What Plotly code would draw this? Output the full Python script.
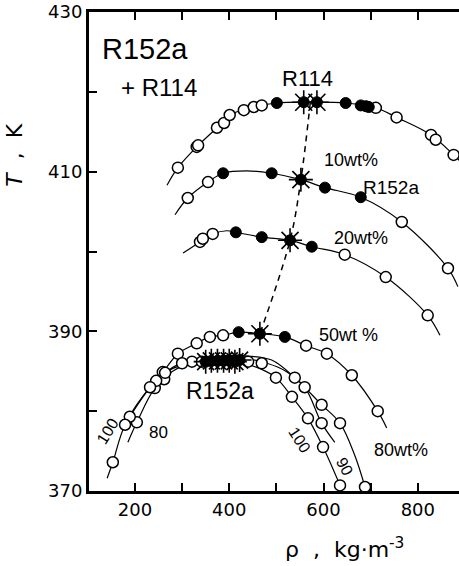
import plotly.graph_objects as go

# ---------------- data (density kg/m3, temperature K) ----------------
# R114 (pure)
r114_line_rho = [268, 291, 331, 374, 401, 452, 501, 571, 647, 711, 755, 828, 876, 893]
r114_line_T   = [408.3, 410.5, 413.1, 415.5, 417.1, 418.1, 418.6, 418.7, 418.6, 418.0, 416.8, 414.6, 412.1, 411.1]
r114_open_rho = [291, 331, 334, 374, 389, 401, 431, 452, 469, 711, 755, 828, 838, 876]
r114_open_T   = [410.5, 413.1, 413.3, 415.5, 416.1, 417.1, 417.7, 418.1, 418.3, 418.0, 416.8, 414.6, 414.0, 412.1]
r114_fill_rho = [501, 647, 679, 690, 696]
r114_fill_T   = [418.6, 418.6, 418.3, 418.2, 418.1]
r114_crit_rho = [558, 586]
r114_crit_T   = [418.7, 418.7]

# 10 wt% R152a
w10_line_rho = [285, 312, 355, 387, 437, 490, 552, 603, 679, 766, 864, 885]
w10_line_T   = [404.6, 406.7, 408.7, 409.8, 410.1, 409.8, 409.0, 408.0, 406.8, 403.7, 397.9, 395.6]
w10_open_rho = [312, 355, 766, 864]
w10_open_T   = [406.7, 408.7, 403.7, 397.9]
w10_fill_rho = [387, 490, 603, 679]
w10_fill_T   = [409.8, 409.8, 408.0, 406.8]
w10_crit_rho = [552]
w10_crit_T   = [409.0]

# 20 wt% R152a
w20_line_rho = [302, 338, 365, 395, 414, 469, 529, 575, 645, 732, 821, 847]
w20_line_T   = [399.8, 401.2, 402.2, 402.6, 402.4, 401.8, 401.4, 400.6, 399.6, 396.8, 392.0, 389.5]
w20_open_rho = [338, 344, 365, 645, 732, 821]
w20_open_T   = [401.2, 401.6, 402.2, 399.6, 396.8, 392.0]
w20_fill_rho = [414, 469, 575]
w20_fill_T   = [402.4, 401.8, 400.6]
w20_crit_rho = [529]
w20_crit_T   = [401.4]

# 50 wt% R152a
w50_line_rho = [232, 259, 291, 331, 359, 387, 420, 465, 518, 563, 607, 660, 715, 734]
w50_line_T   = [383.5, 384.9, 387.2, 388.5, 389.3, 389.5, 389.9, 389.7, 389.3, 388.2, 387.2, 384.5, 380.0, 377.9]
w50_open_rho = [259, 291, 331, 359, 387, 563, 607, 660, 715]
w50_open_T   = [384.9, 387.2, 388.5, 389.3, 389.5, 388.2, 387.2, 384.5, 380.0]
w50_fill_rho = [420, 518]
w50_fill_T   = [389.9, 389.3]
w50_crit_rho = [465]
w50_crit_T   = [389.7]

# 80 wt% R152a
w80_line_rho = [185, 204, 242, 280, 330, 380, 440, 490, 539, 596, 635, 666, 688]
w80_line_T   = [376.1, 378.6, 382.9, 385.0, 386.3, 386.9, 386.9, 386.4, 384.2, 380.8, 378.5, 374.5, 370.5]
w80_open_rho = [204, 242, 262, 321, 539, 596, 635, 688]
w80_open_T   = [378.6, 382.9, 384.0, 386.2, 384.2, 380.8, 378.5, 370.5]

# 90 wt% R152a
w90_line_rho = [189, 240, 290, 340, 430, 480, 520, 560, 596, 624]
w90_line_T   = [379.3, 383.5, 385.8, 386.4, 386.6, 386.0, 385.0, 383.0, 378.5, 376.1]
w90_open_rho = [189, 245, 300, 560, 596]
w90_open_T   = [379.3, 383.8, 386.0, 383.0, 378.5]

# R152a (pure, 100)
w100_line_rho = [141, 153, 179, 232, 264, 300, 342, 384, 430, 470, 499, 533, 567, 599, 635]
w100_line_T   = [371.6, 373.6, 378.3, 383.0, 384.8, 385.8, 386.2, 386.3, 386.0, 385.2, 384.2, 381.8, 379.1, 375.5, 370.7]
w100_open_rho = [153, 179, 232, 264, 342, 440, 469, 499, 533, 567, 599, 635]
w100_open_T   = [373.6, 378.3, 383.0, 384.8, 386.2, 386.2, 386.0, 384.2, 381.8, 379.1, 375.5, 370.7]
w100_crit_rho = [350, 362, 375, 388, 400, 412, 422]
w100_crit_T   = [386.2, 386.3, 386.3, 386.3, 386.3, 386.2, 386.4]

# critical locus (dashed)
crit_line_rho = [572, 552, 529, 465]
crit_line_T   = [418.7, 409.0, 401.4, 389.7]

# ---------------- figure ----------------
fig = go.Figure()

curves = [
    (r114_line_rho, r114_line_T), (w10_line_rho, w10_line_T), (w20_line_rho, w20_line_T),
    (w50_line_rho, w50_line_T), (w80_line_rho, w80_line_T), (w90_line_rho, w90_line_T),
    (w100_line_rho, w100_line_T),
]
for xs, ys in curves:
    fig.add_trace(go.Scatter(x=xs, y=ys, mode="lines",
                             line=dict(color="black", width=1.2, shape="spline", smoothing=1.0),
                             hoverinfo="skip"))

fig.add_trace(go.Scatter(x=crit_line_rho, y=crit_line_T, mode="lines",
                         line=dict(color="black", width=1.5, dash="6px,5px", shape="spline"),
                         hoverinfo="skip"))

open_sets = [(r114_open_rho, r114_open_T), (w10_open_rho, w10_open_T), (w20_open_rho, w20_open_T),
             (w50_open_rho, w50_open_T), (w80_open_rho, w80_open_T), (w90_open_rho, w90_open_T),
             (w100_open_rho, w100_open_T)]
for xs, ys in open_sets:
    fig.add_trace(go.Scatter(x=xs, y=ys, mode="markers", cliponaxis=False,
                             marker=dict(symbol="circle", size=11, color="white",
                                         line=dict(color="black", width=1.5))))

fill_sets = [(r114_fill_rho, r114_fill_T), (w10_fill_rho, w10_fill_T), (w20_fill_rho, w20_fill_T),
             (w50_fill_rho, w50_fill_T)]
for xs, ys in fill_sets:
    fig.add_trace(go.Scatter(x=xs, y=ys, mode="markers", cliponaxis=False,
                             marker=dict(symbol="circle", size=11, color="black",
                                         line=dict(color="black", width=1))))

crit_sets = [(r114_crit_rho, r114_crit_T), (w10_crit_rho, w10_crit_T), (w20_crit_rho, w20_crit_T),
             (w50_crit_rho, w50_crit_T), (w100_crit_rho, w100_crit_T)]
for xs, ys in crit_sets:
    fig.add_trace(go.Scatter(x=xs, y=ys, mode="markers", cliponaxis=False,
                             marker=dict(symbol="circle", size=11, color="black",
                                         line=dict(color="black", width=1))))
    fig.add_trace(go.Scatter(x=xs, y=ys, mode="markers", cliponaxis=False,
                             marker=dict(symbol="asterisk-open", size=20, color="black",
                                         line=dict(color="black", width=1.6))))

FONT = "Liberation Sans"
def label(x, y, text, size, angle=0):
    fig.add_annotation(x=x, y=y, xref="x", yref="y", text=text, showarrow=False,
                       textangle=angle, xanchor="center", yanchor="middle",
                       font=dict(family=FONT, size=size, color="black"))

label(221, 425.4, "R152a", 29)
label(251, 420.6, "+ R114", 24)
label(565, 421.7, "R114", 22)
label(658, 411.5, "10wt%", 18)
label(743, 408.0, "R152a", 19)
label(679, 401.7, "20wt%", 18)
label(654, 389.5, "50wt %", 18)
label(380, 382.5, "R152a", 23)
label(764, 375.1, "80wt%", 18)
label(141, 377.5, "100", 16, angle=-58)
label(249, 377.3, "80", 17)
label(548, 376.4, "100", 16, angle=57)
label(645, 373.1, "90", 16, angle=62)

# axis titles
fig.add_annotation(x=-0.2, y=0.70, xref="paper", yref="paper", showarrow=False,
                   xanchor="center", yanchor="middle",
                   text="<i>T</i>  ,  K", textangle=-90,
                   font=dict(family="DejaVu Sans", size=22, color="black"))
fig.add_annotation(x=0.69, y=-0.118, xref="paper", yref="paper", showarrow=False,
                   xanchor="center", yanchor="middle",
                   text="ρ  ,  kg·m<sup>-3</sup>",
                   font=dict(family="DejaVu Sans", size=22, color="black"))

tick_style = dict(ticks="inside", ticklen=8, tickwidth=2, tickcolor="black")
fig.update_layout(
    width=459, height=566,
    margin=dict(l=89, r=0, t=12, b=75),
    paper_bgcolor="white", plot_bgcolor="white",
    showlegend=False,
    xaxis=dict(range=[102.5, 887.4], tickmode="linear", tick0=200, dtick=200,
               minor=dict(tickmode="linear", tick0=100, dtick=100, **tick_style),
               showline=True, linewidth=3, linecolor="black", mirror="ticks",
               showgrid=False, zeroline=False,
               tickfont=dict(family="DejaVu Sans", size=18, color="black"),
               **tick_style),
    yaxis=dict(range=[370, 430], tickmode="linear", tick0=370, dtick=20,
               minor=dict(tickmode="linear", tick0=370, dtick=10, **tick_style),
               showline=True, linewidth=3, linecolor="black", mirror=False,
               showgrid=False, zeroline=False,
               tickfont=dict(family="DejaVu Sans", size=18, color="black"),
               **tick_style),
)

fig.write_html("out.html")
